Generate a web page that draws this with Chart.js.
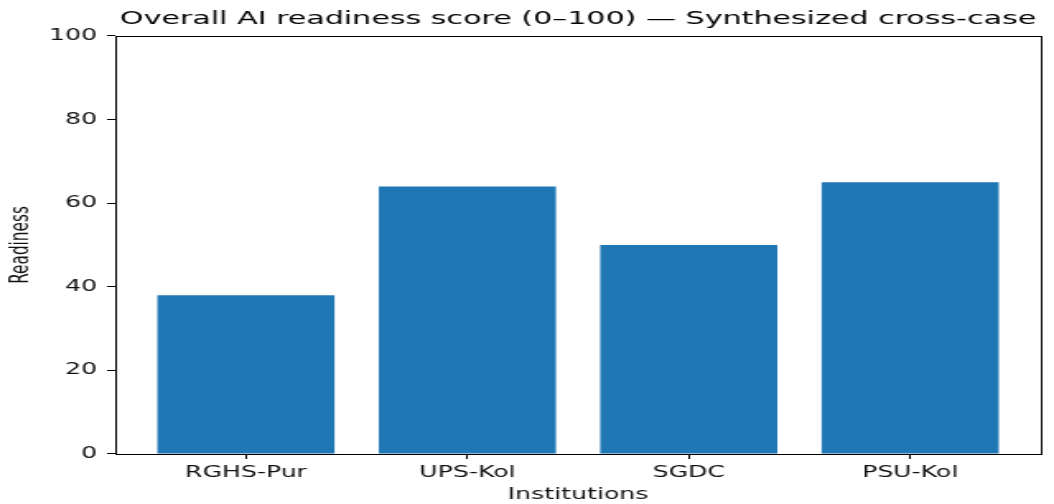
<!DOCTYPE html>
<html>
<head>
<meta charset="utf-8">
<script src="https://cdn.jsdelivr.net/npm/chart.js@4/dist/chart.umd.min.js"></script>
<style>
  body { margin: 0; background: #fff; }
  #readiness_chart { display: block; width: 1054px; height: 504px; }
</style>
</head>
<body>
<canvas id="readiness_chart" width="640" height="504" style="width:1054px;height:504px"></canvas>
<script>
// DATA
const institutions = ["RGHS-Pur", "UPS-Kol", "SGDC", "PSU-Kol"];
const readiness_scores = [38, 64, 50, 65];
const y_ticks = [0, 20, 40, 60, 80, 100];

const chart_title = "Overall AI readiness score (0\u2013100) \u2014 Synthesized cross-case";
const bar_color = "#1f77b4";
const font_family = "'DejaVu Sans', sans-serif";

// matplotlib-like full box around the plot area
const frame_plugin = {
  id: 'frame',
  afterDatasetsDraw(chart) {
    const area = chart.chartArea;
    const ctx = chart.ctx;
    ctx.save();
    ctx.strokeStyle = '#000';
    ctx.lineWidth = 1;
    ctx.strokeRect(Math.round(area.left) + 0.5, Math.round(area.top) + 0.5,
      Math.round(area.right - area.left), Math.round(area.bottom - area.top));
    ctx.restore();
  }
};

const ctx = document.getElementById('readiness_chart').getContext('2d');

const bar_points = institutions.map((name, i) => ({ x: i, y: readiness_scores[i] }));

const my_chart = new Chart(ctx, {
  type: 'bar',
  data: {
    datasets: [{
      label: 'Readiness',
      data: bar_points,
      backgroundColor: bar_color,
      borderWidth: 0,
      barPercentage: 0.8,
      categoryPercentage: 1.0
    }]
  },
  plugins: [frame_plugin],
  options: {
    responsive: false,
    animation: false,
    devicePixelRatio: 1,
    layout: { padding: { left: 0, right: 8, top: 0, bottom: 0 } },
    plugins: {
      legend: { display: false },
      tooltip: { enabled: false },
      title: {
        display: true,
        text: chart_title,
        fullSize: false,
        color: '#000',
        font: { family: font_family, size: 18.3, weight: 'normal' },
        padding: { top: 8, bottom: 6 }
      }
    },
    scales: {
      x: {
        type: 'linear',
        min: -0.59,
        max: 3.59,
        offset: false,
        afterBuildTicks(scale) {
          scale.ticks = institutions.map((n, i) => ({ value: i }));
        },
        afterFit(scale) { scale.height = 50; },
        ticks: {
          callback: (v) => institutions[v] ?? '',
          color: '#111',
          font: { family: font_family, size: 15.3 },
          padding: 5,
          maxRotation: 0,
          autoSkip: false
        },
        grid: { offset: false, drawOnChartArea: false, drawTicks: true, tickLength: 5, color: '#000' },
        border: { display: false },
        title: {
          display: true,
          text: 'Institutions',
          color: '#111',
          font: { family: font_family, size: 15.3 },
          padding: { top: 0, bottom: 0 }
        }
      },
      y: {
        min: 0,
        max: 100,
        afterBuildTicks(scale) {
          scale.ticks = y_ticks.map(v => ({ value: v }));
        },
        afterFit(scale) { scale.width = 70; },
        ticks: {
          color: '#111',
          font: { family: font_family, size: 15.3 },
          padding: 6
        },
        grid: { drawOnChartArea: false, drawTicks: true, tickLength: 5, color: '#000' },
        border: { display: false },
        title: {
          display: true,
          text: 'Readiness',
          color: '#111',
          font: { family: font_family, size: 15.3 },
          padding: { top: 4, bottom: 0 }
        }
      }
    }
  }
});
</script>
</body>
</html>
